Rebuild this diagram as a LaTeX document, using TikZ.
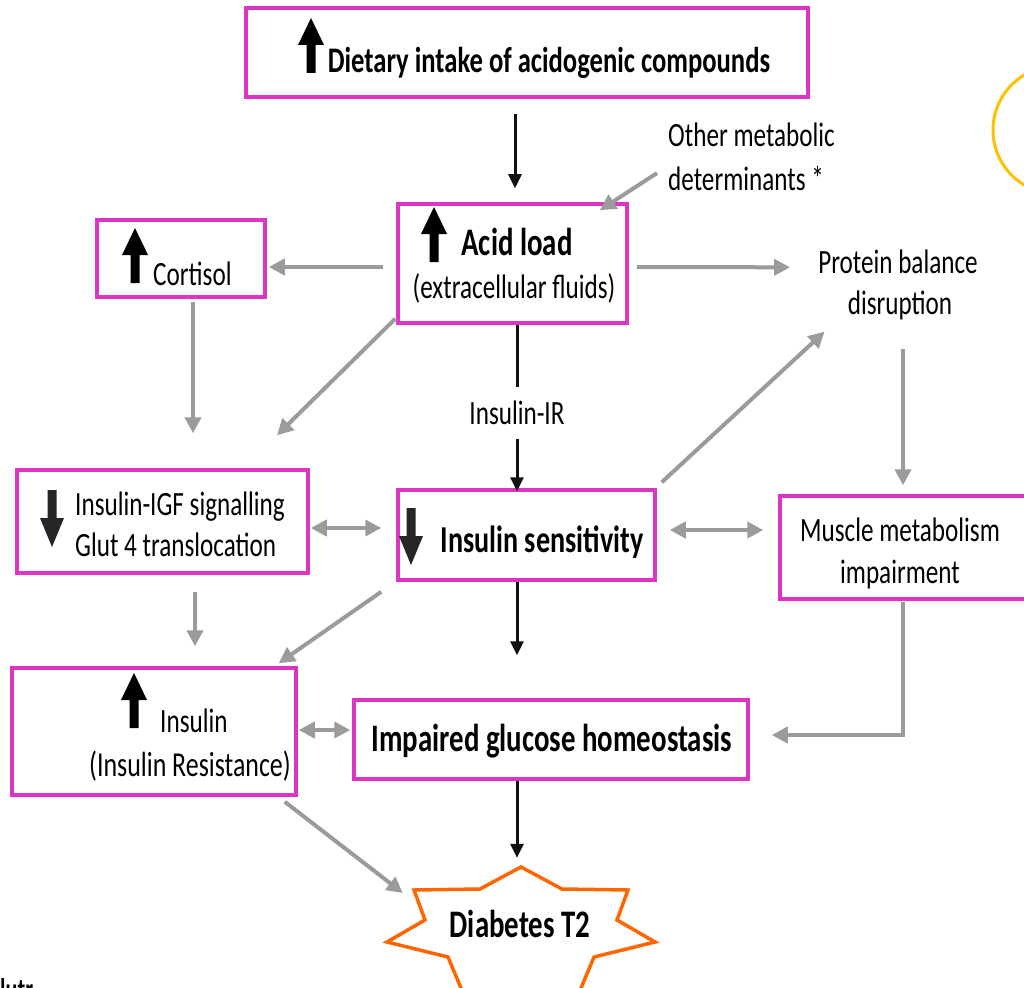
\documentclass[tikz,border=0pt]{standalone}
\usepackage{fontspec}
\setmainfont{Carlito}[FakeStretch=0.74]
\usetikzlibrary{arrows.meta,calc}
\definecolor{mag}{RGB}{222,52,196}
\definecolor{garrc}{RGB}{155,155,155}
\definecolor{barrc}{RGB}{17,17,17}
\definecolor{starc}{RGB}{255,102,0}
\definecolor{circc}{RGB}{255,192,0}
\begin{document}
\begin{tikzpicture}[x=1pt,y=-1pt,
  box/.style={draw=mag,line width=3.5pt,inner sep=0pt},
  txt/.style={inner sep=0pt,font=\fontsize{34}{40}\selectfont},
  btxt/.style={inner sep=0pt,font=\fontsize{36}{43}\selectfont\bfseries},
  lab/.style={fill=white,inner xsep=2pt,inner ysep=14pt,font=\fontsize{34}{40}\selectfont},
  garr/.style={draw=garrc,line width=4pt,-{Triangle[length=16pt,width=16pt]}},
  gdarr/.style={draw=garrc,line width=4pt,{Triangle[length=16pt,width=16pt]}-{Triangle[length=16pt,width=16pt]}},
  barr/.style={draw=barrc,line width=3pt,-{Triangle[length=14pt,width=13pt]}},
  uparr/.pic={\fill[black] (-4.5,0) -- (-4.5,-28) -- (-13,-28) -- (0,-55) -- (13,-28) -- (4.5,-28) -- (4.5,0) -- cycle;},
  downarr/.pic={\fill[black!85] (-4.5,0) -- (-4.5,28) -- (-12,28) -- (0,57) -- (12,28) -- (4.5,28) -- (4.5,0) -- cycle;}
]
\useasboundingbox (0,0) rectangle (1024,987);
\fill[white] (0,0) rectangle (1024,987);
\clip (0,0) rectangle (1024,987);

% boxes
\node[box,minimum width=562pt,minimum height=89pt] (diet) at (527,52.5) {};
\node[box,minimum width=229pt,minimum height=119pt] (acid) at (512.5,263.5) {};
\node[box,minimum width=168pt,minimum height=77pt] (cort) at (181,258.5) {};
\node[box,minimum width=291pt,minimum height=103pt] (igf) at (162.5,521.5) {};
\node[box,minimum width=257pt,minimum height=90pt] (sens) at (526.5,535) {};
\node[box,minimum width=250pt,minimum height=103pt] (musc) at (905,547.5) {};
\node[box,minimum width=284pt,minimum height=127pt] (ins) at (154,731.5) {};
\node[box,minimum width=394pt,minimum height=79pt] (imp) at (551,739.5) {};
\node[inner sep=0pt,minimum width=268pt,minimum height=121pt] (star) at (521,927.5) {};

% star shape
\draw[starc,line width=3.5pt,line join=miter,shift={(521,927.5)}]
  (0,-60.5) -- (41,-38.5) -- (107,-37.5) -- (96,-7.5) -- (134,14.5) -- (73,29.5) -- (55,72.5)
  -- (0,64) -- (-55,72.5) -- (-73,29.5) -- (-134,14.5) -- (-96,-7.5) -- (-107,-37.5) -- (-41,-38.5) -- cycle;

% yellow circle
\draw[circc,line width=3pt] (1057,130) circle[radius=64];

% block arrows inside boxes
\pic at (311,73) {uparr};
\pic at (434,262) {uparr};
\pic at (135,283) {uparr};
\pic at (134,728) {uparr};
\pic at (52,490) {downarr};
\pic at (411,508) {downarr};

% texts
\node[btxt,anchor=base] (diett) at (549,73) {Dietary intake of acidogenic compounds};
\node[btxt,anchor=base,font=\fontsize{39}{45}\selectfont\bfseries] (acid1) at (517,255) {Acid load};
\node[txt,anchor=base] (acid2) at (514,298) {(extracellular fluids)};
\node[txt,anchor=base west] (cortt) at (153,285) {Cortisol};
\node[txt,anchor=base west] (other1) at (668,147) {Other metabolic};
\node[txt,anchor=base west] (other2) at (668,190) {determinants *};
\node[txt,anchor=base] (prot1) at (898,273) {Protein balance};
\node[txt,anchor=base] (prot2) at (900,314) {disruption};
\node[txt,anchor=base west] (igf1) at (75,515) {Insulin-IGF signalling};
\node[txt,anchor=base west] (igf2) at (75,556) {Glut 4 translocation};
\node[btxt,anchor=base,font=\fontsize{38}{45}\selectfont\bfseries] (senst) at (542,552) {Insulin sensitivity};
\node[txt,anchor=base] (musc1) at (900,541) {Muscle metabolism};
\node[txt,anchor=base] (musc2) at (900,583) {impairment};
\node[txt,anchor=base west] (ins1) at (160,732) {Insulin};
\node[txt,anchor=base,font=\fontsize{35}{40}\selectfont] (ins2) at (190,776) {(Insulin Resistance)};
\node[btxt,anchor=base,font=\fontsize{39}{45}\selectfont\bfseries] (impt) at (552,751) {Impaired glucose homeostasis};
\node[btxt,anchor=base,font=\fontsize{39}{45}\selectfont\bfseries] (dia) at (520,937) {Diabetes T2};
\node[inner sep=0pt,anchor=north west,font=\fontsize{30}{36}\selectfont\bfseries] (cut) at (0,978) {lutr};

% black connectors
\draw[barr] ($(diet.south)+(-12,15)$) -- ($(acid.north)+(2.5,-14)$);
\draw[barr] ($(acid.south)+(4.5,0)$) -- node[lab,pos=0.53] (ir) {Insulin-IR} ($(sens.north)+(-9.5,3)$);
\draw[barr] ($(sens.south)+(-9.5,0)$) -- ($(imp.north)+(-34,-43)$);
\draw[barr] ($(imp.south)+(-34,0)$) -- ($(star.north)+(-4,-9)$);

% gray connectors
\draw[garr] ($(acid.west)+(-13,3.5)$) -- ($(cort.east)+(2,8.5)$);
\draw[garr] ($(other2.west)+(-11,-5)$) -- ($(acid.north east)+(-29,8)$);
\draw[garr] ($(acid.east)+(8,3.5)$) -- ($(prot1.west)+(-28,6)$);
\draw[garr] ($(cort.south)+(12,3)$) -- ($(igf.north)+(30.5,-35)$);
\draw[garr] ($(acid.south west)+(-1,-6)$) -- ($(igf.north)+(114.5,-33)$);
\draw[gdarr] ($(igf.east)+(1,6.5)$) -- ($(sens.west)+(-15,-7)$);
\draw[gdarr] ($(sens.east)+(13,-5)$) -- ($(musc.west)+(-15,-17.5)$);
\draw[garr] ($(sens.north east)+(5,-6)$) -- ($(prot2.south west)+(-23,12)$);
\draw[garr] ($(prot2.south)+(3,29)$) -- ($(musc.north)+(-2,-9)$);
\draw[garr] ($(igf.south)+(32.5,17)$) -- ($(ins.north)+(41,-20)$);
\draw[garr] ($(sens.south west)+(-15,10)$) -- ($(ins.north east)+(-19,-3)$);
\draw[gdarr] ($(ins.east)+(1,-1.5)$) -- ($(imp.west)+(-2,-9.5)$);
\draw[garr] ($(musc.south)+(-2,1)$) |- ($(imp.east)+(22,-4.5)$);
\draw[garr] ($(ins.south east)+(-13,5)$) -- ($(star.west)+(16,-34.5)$);
\end{tikzpicture}
\end{document}
